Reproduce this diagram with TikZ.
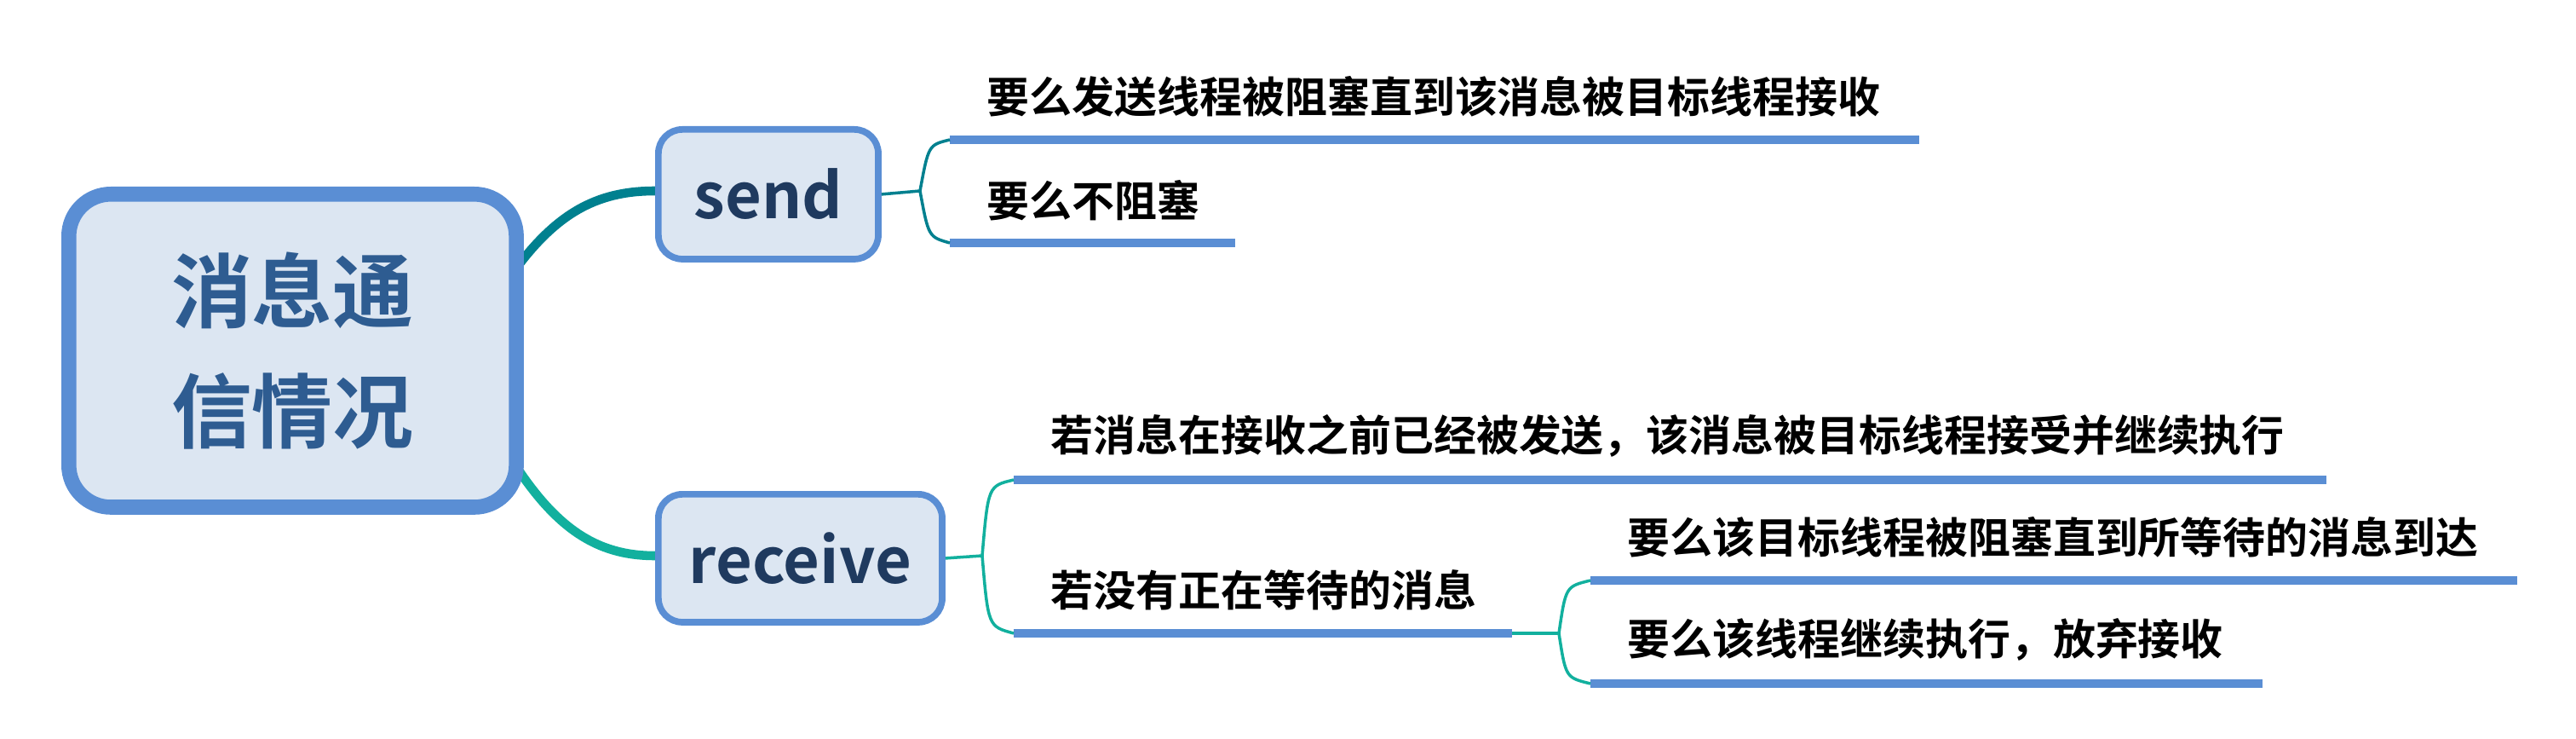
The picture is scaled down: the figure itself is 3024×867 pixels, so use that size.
\documentclass[tikz,border=0pt]{standalone}
\usepackage{fontspec}
\newfontfamily\cjk{Noto Sans CJK SC Bold}
\definecolor{boxfill}{HTML}{DCE6F2}
\definecolor{boxdraw}{HTML}{5A8ED4}
\definecolor{maintext}{HTML}{2E5C91}
\definecolor{subtext}{HTML}{1F3A5F}
\definecolor{tealA}{HTML}{00808F}
\definecolor{tealB}{HTML}{12B09E}
\definecolor{barc}{HTML}{5A8ED4}
\begin{document}
\begin{tikzpicture}[x=0.01cm,y=-0.01cm,
  mainbox/.style={draw=boxdraw,fill=boxfill,line width=5pt,rounded corners=14pt,inner sep=0},
  subbox/.style={draw=boxdraw,fill=boxfill,line width=2.2pt,rounded corners=8pt,inner sep=0},
  leaf/.style={anchor=south west,inner sep=0,font=\cjk\fontsize{14.2}{16}\selectfont},
  bar/.style={barc,line width=2.8pt},
  brk/.style={line width=1pt}]
\useasboundingbox (0,0) rectangle (3024,867);
\draw[tealA,line width=3pt] (595,330) .. controls (650,250) and (700,224) .. (769,224);
\draw[tealB,line width=3pt] (595,530) .. controls (650,620) and (700,652) .. (769,652);
\node[mainbox,minimum width=5.25cm,minimum height=3.67cm,anchor=north west] (main) at (72,219) {};
\node[font=\cjk\fontsize{27}{40}\selectfont,text=maintext,align=center] (mt) at (main.center) {消息通\\信情况};
\node[subbox,minimum width=2.58cm,minimum height=1.52cm,anchor=north west,font=\cjk\fontsize{21}{24}\selectfont,text=subtext] (send) at (769,148) {send};
\node[subbox,minimum width=3.33cm,minimum height=1.5cm,anchor=north west,font=\cjk\fontsize{21}{24}\selectfont,text=subtext] (recv) at (769,576) {receive};
% send leaves
\coordinate (s1) at (1115,164); \coordinate (s1e) at (2253,164);
\coordinate (s2) at (1115,285); \coordinate (s2e) at (1450,285);
\node[leaf] (t1) at (1158,138) {要么发送线程被阻塞直到该消息被目标线程接收};
\node[leaf] (t2) at (1158,260) {要么不阻塞};
\draw[bar] (s1) -- (s1e); \draw[bar] (s2) -- (s2e);
\coordinate (sj) at (1080,224);
\draw[brk,tealA] (send.east) -- (sj) .. controls (1090,170) .. (s1);
\draw[brk,tealA] (sj) .. controls (1090,278) .. (s2);
% receive leaves
\coordinate (r1) at (1190,563); \coordinate (r1e) at (2731,563);
\coordinate (r2) at (1190,743); \coordinate (r2e) at (1775,743);
\node[leaf] (t3) at (1233,537) {若消息在接收之前已经被发送，该消息被目标线程接受并继续执行};
\node[leaf] (t4) at (1233,717) {若没有正在等待的消息};
\draw[bar] (r1) -- (r1e); \draw[bar] (r2) -- (r2e);
\coordinate (rj) at (1153,652);
\draw[brk,tealB] (recv.east) -- (rj) .. controls (1160,570) .. (r1);
\draw[brk,tealB] (rj) .. controls (1160,735) .. (r2);
% sub leaves
\coordinate (q1) at (1867,681); \coordinate (q1e) at (2955,681);
\coordinate (q2) at (1867,802); \coordinate (q2e) at (2656,802);
\node[leaf] (t5) at (1910,655) {要么该目标线程被阻塞直到所等待的消息到达};
\node[leaf] (t6) at (1910,776) {要么该线程继续执行，放弃接收};
\draw[bar] (q1) -- (q1e); \draw[bar] (q2) -- (q2e);
\coordinate (qj) at (1830,743);
\draw[brk,tealB] (r2e) -- (qj) .. controls (1838,688) .. (q1);
\draw[brk,tealB] (qj) .. controls (1838,795) .. (q2);
\end{tikzpicture}
\end{document}
